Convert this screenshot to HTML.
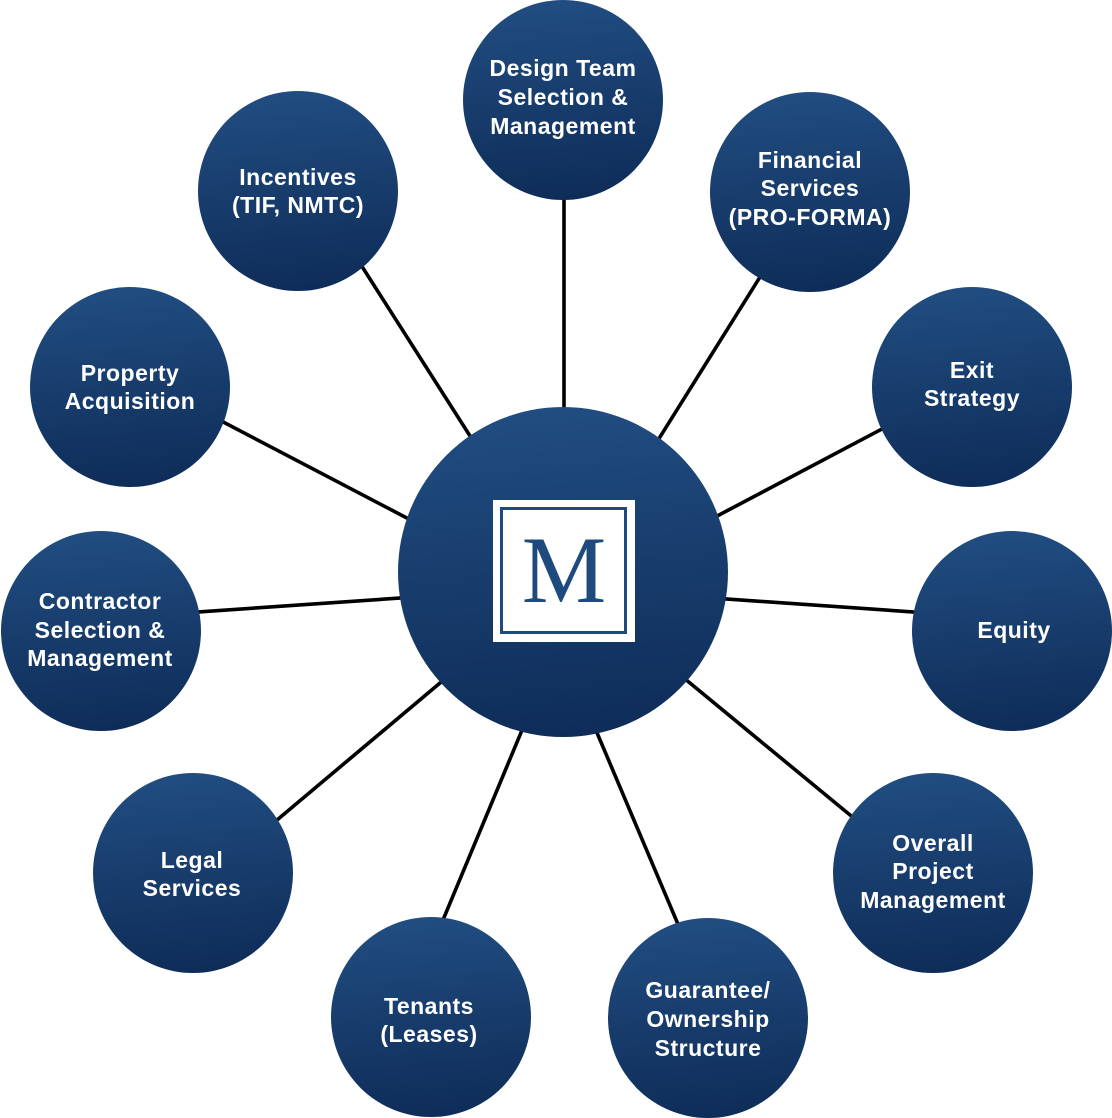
<!DOCTYPE html>
<html>
<head>
<meta charset="utf-8">
<style>
  html, body { margin: 0; padding: 0; background: #ffffff; }
  body { width: 1112px; height: 1118px; overflow: hidden; }
  svg { display: block; }
  .lbl { font-family: "Liberation Sans", Arial, sans-serif; font-weight: bold; font-size: 23px; fill: #ffffff; letter-spacing: 0.5px; }
</style>
</head>
<body>
<svg width="1112" height="1118" viewBox="0 0 1112 1118" xmlns="http://www.w3.org/2000/svg">
  <defs>
    <linearGradient id="g" x1="0.45" y1="0" x2="0.55" y2="1">
      <stop offset="0" stop-color="#214d81"/>
      <stop offset="1" stop-color="#0e2c58"/>
    </linearGradient>
  </defs>

  <!-- connectors -->
  <g stroke="#000000" stroke-width="3.6" fill="none">
    <line x1="564" y1="190" x2="564" y2="420"/>
    <line x1="766.4" y1="266.8" x2="653.6" y2="447.2"/>
    <line x1="356.5" y1="257.9" x2="476.5" y2="446.1"/>
    <line x1="892.6" y1="423.4" x2="708.4" y2="520.6"/>
    <line x1="925" y1="612.8" x2="715" y2="598.2"/>
    <line x1="859.3" y1="822.6" x2="680.7" y2="675.4"/>
    <line x1="681.7" y1="933" x2="593.3" y2="724"/>
    <line x1="438.4" y1="931" x2="524.6" y2="723.9"/>
    <line x1="267.8" y1="827.7" x2="449.2" y2="675.3"/>
    <line x1="186" y1="612.8" x2="412" y2="597.2"/>
    <line x1="214.4" y1="417.4" x2="417.6" y2="523.6"/>
  </g>

  <!-- central circle -->
  <circle cx="563" cy="572" r="165" fill="url(#g)"/>
  <rect x="493" y="500" width="142" height="142" fill="#ffffff"/>
  <rect x="501.5" y="508.5" width="124" height="124" fill="none" stroke="#1f4a7e" stroke-width="3"/>
  <text x="564" y="602" text-anchor="middle" font-family="'Liberation Serif', 'Times New Roman', serif" font-size="95" fill="#1f4a7e">M</text>

  <!-- outer circles -->
  <g fill="url(#g)">
    <circle cx="563" cy="100" r="100"/>
    <circle cx="810" cy="192" r="100"/>
    <circle cx="972" cy="387" r="100"/>
    <circle cx="1012" cy="631" r="100"/>
    <circle cx="933" cy="873" r="100"/>
    <circle cx="708" cy="1018" r="100"/>
    <circle cx="431" cy="1017" r="100"/>
    <circle cx="193" cy="873" r="100"/>
    <circle cx="101" cy="631" r="100"/>
    <circle cx="130" cy="387" r="100"/>
    <circle cx="298" cy="191" r="100"/>
  </g>

  <!-- labels -->
  <g class="lbl" text-anchor="middle">
    <text x="563" y="76">Design Team</text>
    <text x="563" y="105">Selection &amp;</text>
    <text x="563" y="134">Management</text>

    <text x="810" y="168">Financial</text>
    <text x="810" y="196">Services</text>
    <text x="810" y="225">(PRO-FORMA)</text>

    <text x="972" y="378">Exit</text>
    <text x="972" y="406">Strategy</text>

    <text x="1014" y="638">Equity</text>

    <text x="933" y="851">Overall</text>
    <text x="933" y="879">Project</text>
    <text x="933" y="908">Management</text>

    <text x="708" y="998">Guarantee/</text>
    <text x="708" y="1027">Ownership</text>
    <text x="708" y="1056">Structure</text>

    <text x="429" y="1014">Tenants</text>
    <text x="429" y="1042">(Leases)</text>

    <text x="192" y="868">Legal</text>
    <text x="192" y="896">Services</text>

    <text x="100" y="609">Contractor</text>
    <text x="100" y="638">Selection &amp;</text>
    <text x="100" y="666">Management</text>

    <text x="130" y="381">Property</text>
    <text x="130" y="409">Acquisition</text>

    <text x="298" y="185">Incentives</text>
    <text x="298" y="213">(TIF, NMTC)</text>
  </g>
</svg>
</body>
</html>
